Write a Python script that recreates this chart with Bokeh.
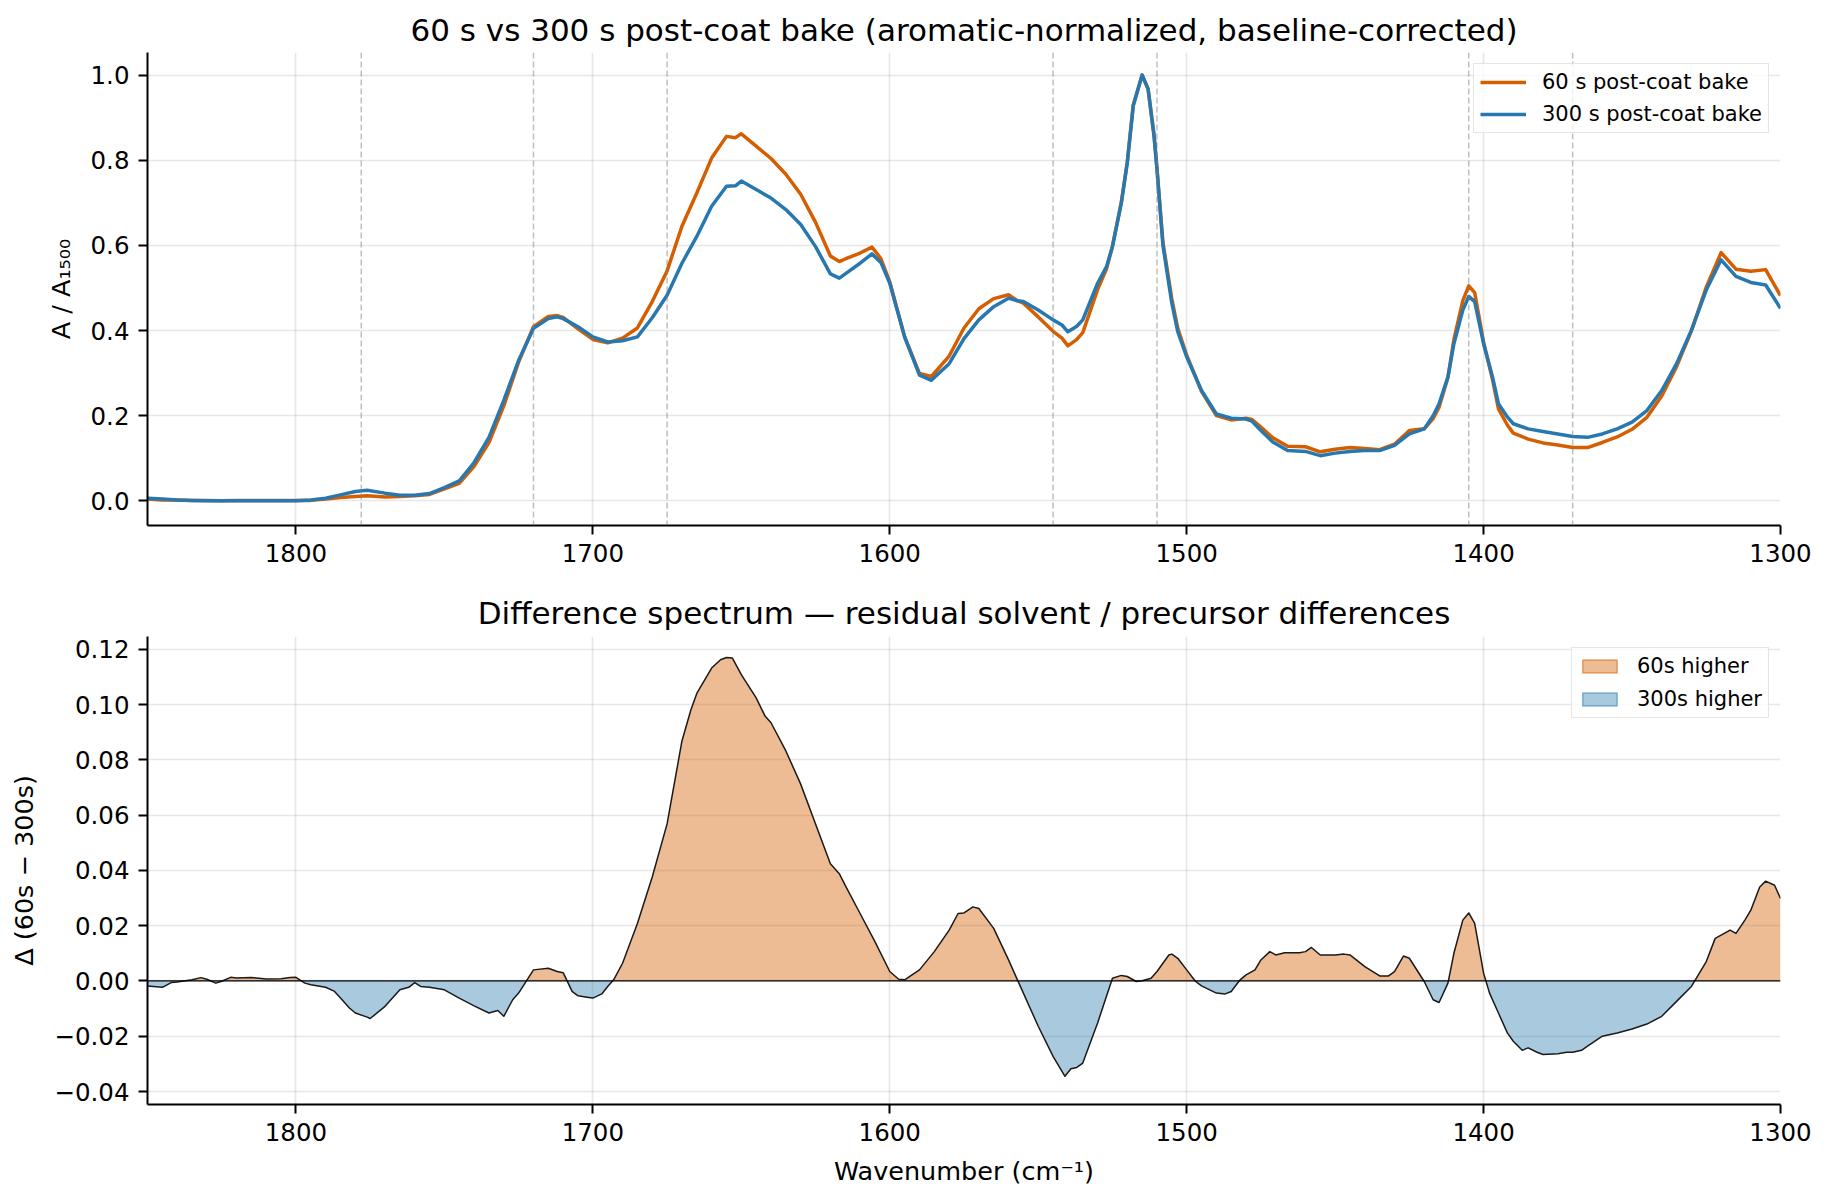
from bokeh.plotting import figure
from bokeh.models import (Range1d, FixedTicker, Span, Legend, LegendItem,
                          CustomJSTickFormatter, ColumnDataSource)
from bokeh.layouts import column
from bokeh.embed import file_html
from bokeh.resources import INLINE

# ---------------- data ----------------
wn_top = [1850, 1845, 1840, 1835, 1830, 1825, 1820, 1815, 1810, 1805, 1800, 1795,
          1790, 1785, 1780, 1776, 1770, 1765, 1760, 1755, 1750, 1745, 1740, 1735,
          1730, 1725, 1720, 1715, 1712, 1710, 1705, 1700, 1695, 1690, 1685, 1680,
          1675, 1670, 1665, 1660, 1655, 1652, 1650, 1645, 1640, 1635, 1630, 1625,
          1620, 1617, 1615, 1610, 1606, 1603, 1600, 1595, 1590, 1586, 1580, 1575,
          1570, 1565, 1560, 1557, 1555, 1550, 1545, 1542, 1540, 1537, 1535, 1530,
          1527, 1525, 1522, 1520, 1518, 1515, 1513, 1511, 1510, 1508, 1505, 1503,
          1500, 1495, 1490, 1485, 1480, 1478, 1475, 1471, 1466, 1460, 1455, 1450,
          1445, 1440, 1435, 1430, 1425, 1420, 1417, 1415, 1412, 1410, 1407, 1405,
          1403, 1400, 1397, 1395, 1392, 1390, 1385, 1380, 1375, 1370, 1365, 1360,
          1355, 1350, 1345, 1340, 1335, 1330, 1325, 1320, 1315, 1310, 1305, 1300]

a300 = [0.006, 0.004, 0.002, 0.001, 0.000, 0.000, 0.000, 0.000, 0.000, 0.000, 0.000, 0.002,
        0.006, 0.014, 0.022, 0.025, 0.018, 0.013, 0.013, 0.017, 0.031, 0.047, 0.090, 0.149,
        0.236, 0.330, 0.405, 0.428, 0.432, 0.428, 0.409, 0.385, 0.373, 0.376, 0.385, 0.430,
        0.483, 0.558, 0.621, 0.692, 0.739, 0.740, 0.751, 0.731, 0.711, 0.684, 0.649, 0.597,
        0.533, 0.523, 0.533, 0.558, 0.580, 0.560, 0.511, 0.385, 0.295, 0.283, 0.322, 0.381,
        0.425, 0.456, 0.476, 0.470, 0.468, 0.448, 0.425, 0.413, 0.397, 0.410, 0.425, 0.511,
        0.550, 0.597, 0.700, 0.794, 0.928, 1.000, 0.967, 0.857, 0.778, 0.600, 0.464, 0.397,
        0.338, 0.259, 0.204, 0.194, 0.192, 0.187, 0.165, 0.138, 0.118, 0.116, 0.106, 0.112,
        0.116, 0.118, 0.118, 0.130, 0.157, 0.169, 0.200, 0.228, 0.291, 0.369, 0.448, 0.480,
        0.468, 0.369, 0.291, 0.228, 0.197, 0.181, 0.169, 0.163, 0.157, 0.151, 0.149, 0.157,
        0.169, 0.185, 0.212, 0.259, 0.322, 0.401, 0.495, 0.566, 0.527, 0.513, 0.507, 0.452]

a60 = [0.004, 0.002, 0.002, 0.001, 0.001, 0.000, 0.001, 0.001, 0.001, 0.001, 0.001, 0.001,
       0.004, 0.008, 0.010, 0.012, 0.009, 0.010, 0.012, 0.015, 0.028, 0.041, 0.081, 0.137,
       0.223, 0.326, 0.409, 0.433, 0.435, 0.431, 0.404, 0.379, 0.371, 0.382, 0.406, 0.468,
       0.540, 0.645, 0.723, 0.805, 0.856, 0.853, 0.862, 0.833, 0.804, 0.767, 0.720, 0.654,
       0.575, 0.562, 0.568, 0.582, 0.596, 0.569, 0.514, 0.385, 0.299, 0.292, 0.340, 0.406,
       0.451, 0.475, 0.484, 0.470, 0.464, 0.432, 0.398, 0.382, 0.364, 0.379, 0.395, 0.496,
       0.545, 0.598, 0.702, 0.796, 0.929, 1.000, 0.968, 0.860, 0.781, 0.607, 0.474, 0.405,
       0.342, 0.257, 0.200, 0.190, 0.194, 0.191, 0.173, 0.148, 0.128, 0.127, 0.115, 0.121,
       0.125, 0.123, 0.120, 0.133, 0.165, 0.169, 0.193, 0.220, 0.290, 0.379, 0.470, 0.505,
       0.489, 0.372, 0.285, 0.216, 0.178, 0.159, 0.145, 0.136, 0.131, 0.125, 0.125, 0.137,
       0.150, 0.168, 0.196, 0.246, 0.315, 0.399, 0.502, 0.583, 0.544, 0.539, 0.543, 0.482]

wn_diff = [1850, 1845, 1842, 1840, 1835, 1832, 1830, 1827, 1825, 1822, 1820, 1815,
           1810, 1805, 1802, 1800, 1797, 1795, 1790, 1787, 1785, 1782, 1780, 1776,
           1775, 1770, 1765, 1762, 1760, 1758, 1755, 1750, 1745, 1740, 1735, 1732,
           1730, 1727, 1725, 1720, 1715, 1712, 1710, 1707, 1705, 1702, 1700, 1697,
           1695, 1693, 1690, 1685, 1680, 1675, 1670, 1667, 1665, 1660, 1657, 1655,
           1653, 1650, 1645, 1642, 1640, 1635, 1630, 1625, 1620, 1617, 1615, 1610,
           1605, 1600, 1597, 1595, 1590, 1585, 1580, 1577, 1575, 1572, 1570, 1565,
           1560, 1557, 1555, 1550, 1545, 1541, 1539, 1537, 1535, 1530, 1525, 1522,
           1520, 1517, 1515, 1512, 1510, 1506, 1505, 1503, 1500, 1497, 1495, 1490,
           1487, 1485, 1482, 1480, 1477, 1475, 1472, 1470, 1467, 1465, 1462, 1460,
           1458, 1455, 1452, 1450, 1447, 1445, 1440, 1435, 1432, 1430, 1427, 1425,
           1420, 1417, 1415, 1412, 1410, 1407, 1405, 1403, 1400, 1398, 1395, 1392,
           1390, 1387, 1385, 1382, 1380, 1375, 1372, 1370, 1367, 1365, 1360, 1355,
           1350, 1345, 1340, 1335, 1330, 1325, 1322, 1320, 1317, 1315, 1312, 1310,
           1307, 1305, 1302, 1300]

diff = [-0.0018, -0.0023, -0.0006, -0.0004, 0.0004, 0.0012, 0.0006, -0.0008, -0.0001, 0.0013, 0.0011, 0.0012,
        0.0007, 0.0008, 0.0012, 0.0013, -0.0008, -0.0014, -0.0023, -0.0038, -0.0062, -0.0098, -0.0116, -0.0131,
        -0.0136, -0.0092, -0.0032, -0.0023, -0.0006, -0.0020, -0.0023, -0.0032, -0.0062, -0.0090, -0.0116, -0.0107,
        -0.0128, -0.0068, -0.0044, 0.0040, 0.0046, 0.0034, 0.0030, -0.0038, -0.0054, -0.0059, -0.0062, -0.0047,
        -0.0020, 0.0004, 0.0064, 0.0208, 0.0376, 0.0568, 0.0868, 0.0980, 0.1040, 0.1132, 0.1162, 0.1170,
        0.1168, 0.1108, 0.1024, 0.0958, 0.0934, 0.0832, 0.0712, 0.0568, 0.0424, 0.0388, 0.0346, 0.0244,
        0.0142, 0.0034, 0.0006, 0.0004, 0.0040, 0.0106, 0.0184, 0.0244, 0.0246, 0.0268, 0.0262, 0.0190,
        0.0076, 0.0004, -0.0044, -0.0164, -0.0273, -0.0345, -0.0318, -0.0313, -0.0297, -0.0152, 0.0010, 0.0020,
        0.0016, -0.0002, 0.0001, 0.0010, 0.0034, 0.0094, 0.0097, 0.0082, 0.0040, -0.0002, -0.0018, -0.0044,
        -0.0047, -0.0038, 0.0004, 0.0022, 0.0040, 0.0076, 0.0106, 0.0094, 0.0102, 0.0102, 0.0102, 0.0106,
        0.0121, 0.0094, 0.0094, 0.0094, 0.0097, 0.0094, 0.0052, 0.0018, 0.0018, 0.0034, 0.0090, 0.0082,
        -0.0002, -0.0068, -0.0078, -0.0008, 0.0100, 0.0220, 0.0246, 0.0208, 0.0028, -0.0044, -0.0116, -0.0188,
        -0.0218, -0.0251, -0.0242, -0.0258, -0.0266, -0.0263, -0.0258, -0.0258, -0.0251, -0.0236, -0.0200, -0.0188,
        -0.0174, -0.0156, -0.0128, -0.0074, -0.0020, 0.0070, 0.0154, 0.0166, 0.0184, 0.0172, 0.0220, 0.0256,
        0.0340, 0.0361, 0.0346, 0.0298]

band_markers = [1778, 1720, 1675, 1545, 1510, 1405, 1370]
x_ticks = [1800, 1700, 1600, 1500, 1400, 1300]
y_ticks_top = [0.0, 0.2, 0.4, 0.6, 0.8, 1.0]
y_ticks_bot = [-0.04, -0.02, 0.0, 0.02, 0.04, 0.06, 0.08, 0.10, 0.12]

series_labels = ["60 s post-coat bake", "300 s post-coat bake"]
fill_labels = ["60s higher", "300s higher"]

C60 = "#d55e00"
C300 = "#2878b0"
FONT = "DejaVu Sans"


def style(p, xlabel=None, ylabel=None, title_standoff=8):
    p.outline_line_color = None
    p.background_fill_color = "white"
    p.border_fill_color = "white"
    p.title.text_font = FONT
    p.title.text_font_size = "31px"
    p.title.text_font_style = "normal"
    p.title.text_color = "black"
    p.title.align = "center"
    p.title.standoff = title_standoff
    for ax in (p.xaxis[0], p.yaxis[0]):
        ax.axis_line_width = 2
        ax.axis_line_color = "black"
        ax.major_tick_line_width = 2
        ax.major_tick_line_color = "black"
        ax.major_tick_out = 9
        ax.major_tick_in = 0
        ax.minor_tick_line_color = None
        ax.major_label_text_font = FONT
        ax.major_label_text_font_size = "24.5px"
        ax.major_label_text_color = "black"
        ax.major_label_standoff = 9
        ax.axis_label_text_font = FONT
        ax.axis_label_text_font_size = "25.5px"
        ax.axis_label_text_font_style = "normal"
        ax.axis_label_text_color = "black"
        ax.axis_label_standoff = 12
    if xlabel:
        p.xaxis.axis_label = xlabel
    if ylabel:
        p.yaxis.axis_label = ylabel
    p.xaxis.ticker = FixedTicker(ticks=x_ticks)
    for g in (p.xgrid[0], p.ygrid[0]):
        g.grid_line_color = "#b0b0b0"
        g.grid_line_alpha = 0.3
        g.grid_line_width = 1.6


def style_legend(lg, gw, gh, sp):
    lg.location = "top_right"
    lg.margin = 11
    lg.padding = 6
    lg.spacing = sp
    lg.glyph_width = gw
    lg.glyph_height = gh
    lg.label_standoff = 16
    lg.label_text_font = FONT
    lg.label_text_font_size = "21px"
    lg.label_text_color = "black"
    lg.border_line_color = "#cccccc"
    lg.border_line_width = 1.5
    lg.background_fill_color = "white"
    lg.background_fill_alpha = 0.8


# ---------------- top panel ----------------
p1 = figure(frame_width=1633, frame_height=473, output_backend="svg", toolbar_location=None,
            x_range=Range1d(1850, 1300), y_range=Range1d(-0.058, 1.053),
            min_border_left=147, min_border_right=35, min_border_top=52,
            min_border_bottom=59,
            title="60 s vs 300 s post-coat bake (aromatic-normalized, baseline-corrected)")
style(p1, ylabel="A / A\u2081\u2085\u2080\u2080", title_standoff=9)
p1.yaxis.ticker = FixedTicker(ticks=y_ticks_top)
p1.yaxis.formatter = CustomJSTickFormatter(code="return tick.toFixed(1);")
p1.ygrid.ticker = FixedTicker(ticks=y_ticks_top)

src_top = ColumnDataSource(dict(wn=wn_top, a60=a60, a300=a300))
r60 = p1.line("wn", "a60", source=src_top, line_color=C60, line_width=3.5, line_join="round")
r300 = p1.line("wn", "a300", source=src_top, line_color=C300, line_width=3.5, line_join="round")

for m in band_markers:
    p1.add_layout(Span(location=m, dimension="height", line_color="#808080",
                       line_alpha=0.5, line_width=1.5, line_dash="6 3"))

lg1 = Legend(items=[LegendItem(label=series_labels[0], renderers=[r60]),
                    LegendItem(label=series_labels[1], renderers=[r300])])
style_legend(lg1, 46, 22, 8)
p1.add_layout(lg1)

# ---------------- bottom panel ----------------
p2 = figure(frame_width=1633, frame_height=468, output_backend="svg", toolbar_location=None,
            x_range=Range1d(1850, 1300), y_range=Range1d(-0.0447, 0.1246),
            min_border_left=147, min_border_right=35, min_border_top=52,
            min_border_bottom=92,
            title="Difference spectrum \u2014 residual solvent / precursor differences")
style(p2, xlabel="Wavenumber (cm\u207b\u00b9)", ylabel="\u0394 (60s \u2212 300s)",
      title_standoff=12)
p2.yaxis.ticker = FixedTicker(ticks=y_ticks_bot)
p2.yaxis.formatter = CustomJSTickFormatter(
    code="var s = Math.abs(tick).toFixed(2); return (tick < -1e-9 ? '\u2212' : '') + s;")
p2.ygrid.ticker = FixedTicker(ticks=y_ticks_bot)

# split the difference at its zero crossings so each sign gets its own fill
xs, pos, neg = [], [], []
for i in range(len(wn_diff)):
    if i > 0 and diff[i - 1] * diff[i] < 0:
        t = diff[i - 1] / (diff[i - 1] - diff[i])
        xs.append(wn_diff[i - 1] + (wn_diff[i] - wn_diff[i - 1]) * t)
        pos.append(0.0)
        neg.append(0.0)
    xs.append(wn_diff[i])
    pos.append(max(diff[i], 0.0))
    neg.append(min(diff[i], 0.0))

src_fill = ColumnDataSource(dict(x=xs, pos=pos, neg=neg, zero=[0.0] * len(xs)))
p2.varea(x="x", y1="zero", y2="pos", source=src_fill, fill_color=C60, fill_alpha=0.42)
p2.varea(x="x", y1="zero", y2="neg", source=src_fill, fill_color=C300, fill_alpha=0.4)
p2.line(wn_diff, diff, line_color="#1a1a1a", line_width=1.5, line_join="round")
p2.add_layout(Span(location=0, dimension="width", line_color="black", line_width=1.3))

# legend swatches (a single non-drawable row so the legend can paint them)
nan = float("nan")
swatch = ColumnDataSource(dict(l=[nan], r=[nan], t=[nan], b=[nan]))
q60 = p2.quad(left="l", right="r", top="t", bottom="b", source=swatch,
              fill_color=C60, fill_alpha=0.42, line_color=C60, line_alpha=0.5, line_width=1.5)
q300 = p2.quad(left="l", right="r", top="t", bottom="b", source=swatch,
               fill_color=C300, fill_alpha=0.4, line_color=C300, line_alpha=0.5, line_width=1.5)
lg2 = Legend(items=[LegendItem(label=fill_labels[0], renderers=[q60]),
                    LegendItem(label=fill_labels[1], renderers=[q300])])
style_legend(lg2, 43, 16, 9)
p2.add_layout(lg2)

layout = column(p1, p2)
open("out.html", "w").write(file_html(layout, INLINE))
